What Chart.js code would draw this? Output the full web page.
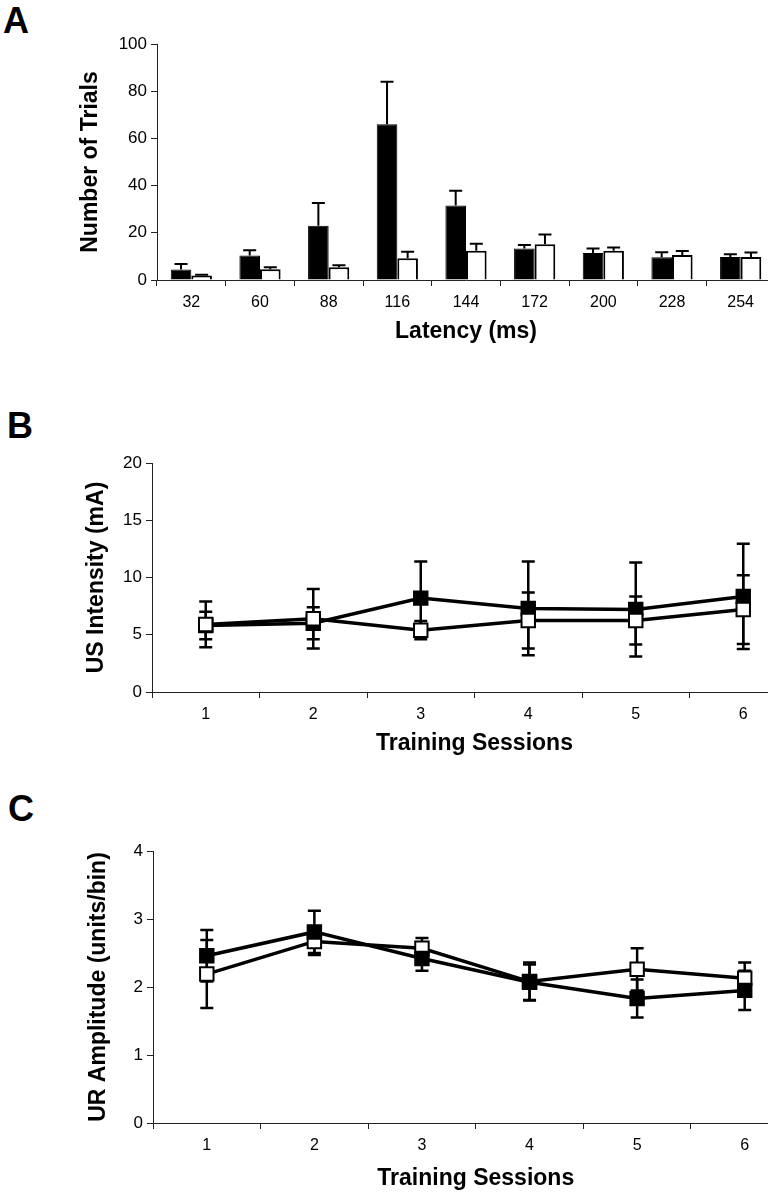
<!DOCTYPE html>
<html>
<head>
<meta charset="utf-8">
<script src="https://cdn.jsdelivr.net/npm/chart.js@4.4.0/dist/chart.umd.min.js"></script>
<style>
  html, body { margin: 0; padding: 0; background: #fff; }
  body { width: 768px; height: 1199px; overflow: hidden; position: relative; }
  canvas { position: absolute; left: 0; }
  .lbl { position: absolute; font: bold 36px Arial, "Liberation Sans", sans-serif; line-height: 36px; color: #000; }
</style>
</head>
<body>
<div class="lbl" style="left:3px;top:3px">A</div>
<div class="lbl" style="left:7px;top:408px">B</div>
<div class="lbl" style="left:8px;top:791px">C</div>
<canvas id="chartA" width="810" height="350" style="top:0px"></canvas>
<canvas id="chartB" width="810" height="380" style="top:380px"></canvas>
<canvas id="chartC" width="810" height="429" style="top:770px"></canvas>
<script>
// panel A - latency histogram
var latency = ['32', '60', '88', '116', '144', '172', '200', '228', '254'];
var trialsBlack    = [4.5, 10.4, 23, 66, 31.6, 13.4, 11.4, 9.6, 9.7];
var trialsBlackErr = [2.3, 2.2, 9.6, 18, 6.2, 1.4, 2.0, 2.2, 1.2];
var trialsWhite    = [1.9, 4.6, 5.4, 9.2, 12.4, 15.1, 12.4, 10.6, 9.7];
var trialsWhiteErr = [0.3, 0.8, 0.8, 2.8, 3.0, 4.2, 1.4, 1.7, 1.9];

// panel B - US intensity
var sessions = ['1', '2', '3', '4', '5', '6'];
var usBlack    = [5.8, 6.0, 8.2, 7.3, 7.2, 8.35];
var usBlackErr = [1.2, 1.4, 3.2, 4.1, 4.1, 4.6];
var usWhite    = [5.9, 6.4, 5.4, 6.25, 6.25, 7.2];
var usWhiteErr = [2.0, 2.6, 0.8, 2.45, 2.1, 3.0];

// panel C - UR amplitude
var urBlack    = [2.46, 2.81, 2.42, 2.07, 1.83, 1.95];
var urBlackErr = [0.38, 0.31, 0.18, 0.26, 0.28, 0.29];
var urWhite    = [2.19, 2.67, 2.57, 2.08, 2.26, 2.13];
var urWhiteErr = [0.5, 0.2, 0.15, 0.28, 0.31, 0.23];

Chart.defaults.font.family = 'Arial, "Liberation Sans", sans-serif';
Chart.defaults.color = '#000';

function drawErrors(chart, o) {
  var ctx = chart.ctx, ys = chart.scales.y;
  chart.data.datasets.forEach(function (ds, i) {
    if (!ds.errors) return;
    var meta = chart.getDatasetMeta(i);
    meta.data.forEach(function (el, j) {
      var v = ds.data[j], e = ds.errors[j];
      var top = ys.getPixelForValue(v + e);
      var bot = o.upOnly ? ys.getPixelForValue(v) : ys.getPixelForValue(v - e);
      ctx.save();
      ctx.strokeStyle = '#000';
      ctx.lineWidth = o.width;
      ctx.beginPath();
      ctx.moveTo(el.x, top); ctx.lineTo(el.x, bot);
      ctx.moveTo(el.x - o.cap / 2, top); ctx.lineTo(el.x + o.cap / 2, top);
      if (!o.upOnly) { ctx.moveTo(el.x - o.cap / 2, bot); ctx.lineTo(el.x + o.cap / 2, bot); }
      ctx.stroke();
      ctx.restore();
    });
  });
}

var errorBars = {
  id: 'errorBars',
  beforeDatasetsDraw: function (chart, args, o) { if (o.behind) drawErrors(chart, o); },
  afterDatasetsDraw: function (chart, args, o) { if (!o.behind) drawErrors(chart, o); }
};

function yAxis(max, step, title, w, tpad) {
  return {
    min: 0, max: max,
    ticks: { stepSize: step, padding: 4, font: { size: 17 } },
    grid: { drawOnChartArea: false, drawTicks: true, tickLength: 6, color: '#222' },
    border: { color: '#222', width: 1 },
    title: { display: true, text: title, font: { size: 23, weight: 'bold' }, padding: { top: tpad, bottom: 0 } },
    afterFit: function (s) { s.width = w; }
  };
}

function xAxis(title, h, bpad) {
  return {
    offset: true,
    ticks: { padding: 7, font: { size: 16 }, maxRotation: 0, autoSkip: false },
    grid: { offset: true, drawOnChartArea: false, drawTicks: true, tickLength: 6, color: '#222' },
    border: { color: '#222', width: 1 },
    title: { display: true, text: title, font: { size: 23, weight: 'bold' }, padding: { top: 0, bottom: bpad } },
    afterFit: function (s) { s.height = h; }
  };
}

var common = {
  responsive: false,
  devicePixelRatio: 1,
  animation: false,
  plugins: { legend: { display: false }, tooltip: { enabled: false } }
};

new Chart(document.getElementById('chartA'), {
  type: 'bar',
  data: {
    labels: latency,
    datasets: [
      { data: trialsBlack, errors: trialsBlackErr, backgroundColor: '#000', borderColor: '#000', borderWidth: 1 },
      { data: trialsWhite, errors: trialsWhiteErr, backgroundColor: '#fff', borderColor: '#000', borderWidth: 2 }
    ]
  },
  options: Object.assign({}, common, {
    layout: { padding: { left: 0, top: 44, right: 35, bottom: 0 } },
    datasets: { bar: { categoryPercentage: 0.6, barPercentage: 1.0 } },
    scales: {
      x: xAxis('Latency (ms)', 70, 5),
      y: yAxis(100, 20, 'Number of Trials', 157, 77)
    },
    plugins: Object.assign({}, common.plugins, { errorBars: { behind: false, upOnly: true, cap: 13, width: 2 } })
  }),
  plugins: [errorBars]
});

function lineSets(blk, blkErr, wht, whtErr, whiteOnTop) {
  return [
    { data: blk, errors: blkErr, order: whiteOnTop ? 2 : 1, borderColor: '#000', borderWidth: 3.5,
      pointStyle: 'rect', pointRadius: 9.5, pointBackgroundColor: '#000', pointBorderColor: '#000', pointBorderWidth: 2 },
    { data: wht, errors: whtErr, order: whiteOnTop ? 1 : 2, borderColor: '#000', borderWidth: 3.5,
      pointStyle: 'rect', pointRadius: 9.5, pointBackgroundColor: '#fff', pointBorderColor: '#000', pointBorderWidth: 2 }
  ];
}

new Chart(document.getElementById('chartB'), {
  type: 'line',
  data: { labels: sessions, datasets: lineSets(usBlack, usBlackErr, usWhite, usWhiteErr, true) },
  options: Object.assign({}, common, {
    layout: { padding: { left: 0, top: 83, right: 13, bottom: 0 } },
    scales: {
      x: xAxis('Training Sessions', 68, 3),
      y: yAxis(20, 5, 'US Intensity (mA)', 152, 83)
    },
    plugins: Object.assign({}, common.plugins, { errorBars: { behind: true, upOnly: false, cap: 13, width: 2.5 } })
  }),
  plugins: [errorBars]
});

new Chart(document.getElementById('chartC'), {
  type: 'line',
  data: { labels: sessions, datasets: lineSets(urBlack, urBlackErr, urWhite, urWhiteErr, false) },
  options: Object.assign({}, common, {
    layout: { padding: { left: 0, top: 81, right: 10, bottom: 0 } },
    scales: {
      x: xAxis('Training Sessions', 76, 7),
      y: yAxis(4, 1, 'UR Amplitude (units/bin)', 153, 85)
    },
    plugins: Object.assign({}, common.plugins, { errorBars: { behind: true, upOnly: false, cap: 13, width: 2.5 } })
  }),
  plugins: [errorBars]
});
</script>
</body>
</html>
